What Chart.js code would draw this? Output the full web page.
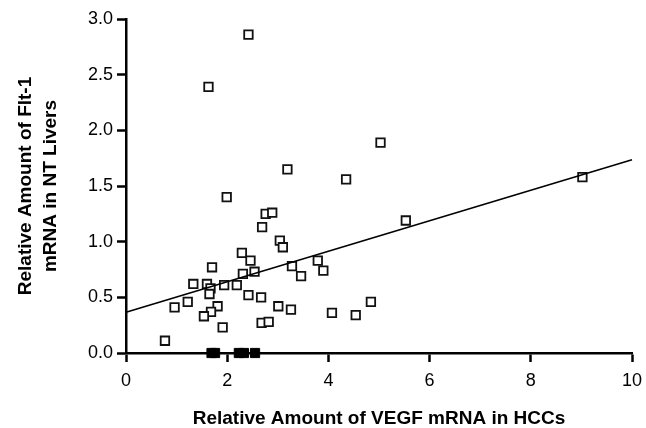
<!DOCTYPE html>
<html>
<head>
<meta charset="utf-8">
<script src="https://cdn.jsdelivr.net/npm/chart.js@4/dist/chart.umd.min.js"></script>
<style>
  body { margin: 0; background: #fff; }
  #wrap { width: 646px; height: 428px; }
</style>
</head>
<body>
<div id="wrap"><canvas id="grafico" width="646" height="428"></canvas></div>
<script>
// VEGF (x) vs Flt-1 (y), open squares
const vegfHcc = [2.42, 1.63, 3.19, 1.99, 2.76, 2.89, 2.69, 3.04, 3.10, 2.29, 2.46, 1.70,
    3.28, 3.79, 3.90, 3.46, 2.31, 2.54, 1.33, 1.60, 1.67, 1.65, 1.94, 2.19, 2.42, 2.67,
    0.96, 1.22, 1.81, 1.68, 1.54, 1.91, 2.68, 2.82, 3.01, 3.26, 0.77, 4.07, 4.54, 4.84,
    4.35, 5.03, 5.53, 9.02];
const flt1NtLiver = [2.86, 2.39, 1.65, 1.40, 1.25, 1.26, 1.13, 1.01, 0.95, 0.90, 0.83, 0.77,
    0.78, 0.83, 0.74, 0.69, 0.71, 0.73, 0.62, 0.62, 0.58, 0.53, 0.61, 0.61, 0.52, 0.50,
    0.41, 0.46, 0.42, 0.37, 0.33, 0.23, 0.27, 0.28, 0.42, 0.39, 0.11, 0.36, 0.34, 0.46,
    1.56, 1.89, 1.19, 1.58];

// samples sitting on the x axis (filled squares)
const vegfZero = [1.69, 1.76, 2.23, 2.33, 2.55];
const flt1Zero = [0, 0, 0, 0, 0];

// regression line end points
const fitX = [0, 10];
const fitY = [0.366, 1.736];

const xTicks = [0, 2, 4, 6, 8, 10];
const yTicks = [0, 0.5, 1.0, 1.5, 2.0, 2.5, 3.0];

const pontos = vegfHcc.map((x, i) => ({ x: x, y: flt1NtLiver[i] }));
const pontosZero = vegfZero.map((x, i) => ({ x: x, y: flt1Zero[i] }));
const reta = fitX.map((x, i) => ({ x: x, y: fitY[i] }));

const ctx = document.getElementById('grafico').getContext('2d');
new Chart(ctx, {
    type: 'scatter',
    data: {
        datasets: [
            {
                label: 'fit',
                data: reta,
                showLine: true,
                borderColor: '#000',
                borderWidth: 1.6,
                pointRadius: 0,
                clip: false
            },
            {
                label: 'samples',
                data: pontos,
                pointStyle: 'rect',
                pointRadius: 6,
                borderColor: '#111',
                borderWidth: 1.8,
                backgroundColor: '#fff',
                clip: false
            },
            {
                label: 'zero',
                data: pontosZero,
                pointStyle: 'rect',
                pointRadius: 6.5,
                borderColor: '#000',
                borderWidth: 1,
                backgroundColor: '#000',
                clip: false
            }
        ]
    },
    options: {
        responsive: false,
        animation: false,
        events: [],
        layout: {
            padding: { top: 19, right: 14, left: 0, bottom: 0 }
        },
        scales: {
            x: {
                type: 'linear',
                min: 0,
                max: 10,
                afterFit: (scale) => {
                    scale.height = 75;
                    scale.paddingLeft = 0;
                    scale.paddingRight = 0;
                },
                afterBuildTicks: (scale) => { scale.ticks = xTicks.map(v => ({ value: v })); },
                border: { display: true, color: '#000', width: 2.5 },
                grid: {
                    drawOnChartArea: false,
                    drawTicks: true,
                    tickLength: 9,
                    tickWidth: 2.5,
                    tickColor: '#000'
                },
                ticks: {
                    color: '#000',
                    padding: 8,
                    maxRotation: 0,
                    font: { family: 'Liberation Sans', size: 18 },
                    callback: (v) => String(v)
                },
                title: {
                    display: true,
                    text: 'Relative Amount of VEGF mRNA in HCCs',
                    color: '#000',
                    padding: { top: 0, bottom: 0 },
                    font: { family: 'Liberation Sans', size: 19, weight: 'bold', lineHeight: 1 }
                }
            },
            y: {
                type: 'linear',
                min: 0,
                max: 3,
                afterFit: (scale) => {
                    scale.width = 126;
                    scale.paddingTop = 0;
                    scale.paddingBottom = 0;
                },
                afterBuildTicks: (scale) => { scale.ticks = yTicks.map(v => ({ value: v })); },
                border: { display: true, color: '#000', width: 2.5 },
                grid: {
                    drawOnChartArea: false,
                    drawTicks: true,
                    tickLength: 9,
                    tickWidth: 2.5,
                    tickColor: '#000'
                },
                ticks: {
                    color: '#000',
                    padding: 4,
                    font: { family: 'Liberation Sans', size: 18 },
                    callback: (v) => Number(v).toFixed(1)
                },
                title: {
                    display: true,
                    text: ['Relative Amount of Flt-1', 'mRNA in NT Livers'],
                    color: '#000',
                    padding: { top: 13, bottom: 0 },
                    font: { family: 'Liberation Sans', size: 19, weight: 'bold', lineHeight: 25 / 19 }
                }
            }
        },
        plugins: {
            legend: { display: false },
            tooltip: { enabled: false }
        }
    }
});
</script>
</body>
</html>
